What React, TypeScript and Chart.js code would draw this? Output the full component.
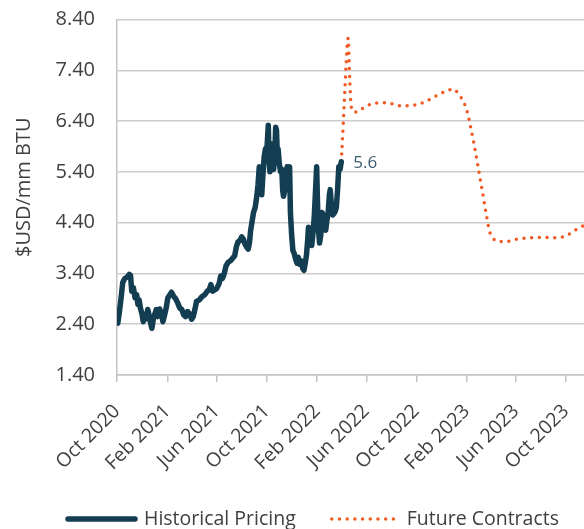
import React, { useEffect, useRef } from 'react';
import { Chart, registerables } from 'chart.js';

Chart.register(...registerables);

const histDates = [
  '2020-10-03','2020-10-07','2020-10-11','2020-10-15','2020-10-20','2020-10-26','2020-10-31',
  '2020-11-03','2020-11-06','2020-11-10','2020-11-14','2020-11-18','2020-11-21','2020-11-24','2020-11-27',
  '2020-12-01','2020-12-04','2020-12-07','2020-12-10','2020-12-15','2020-12-19','2020-12-22','2020-12-25','2020-12-29',
  '2021-01-02','2021-01-05','2021-01-08','2021-01-13','2021-01-17','2021-01-21','2021-01-25','2021-01-29',
  '2021-02-02','2021-02-07','2021-02-11','2021-02-16','2021-02-21','2021-02-26',
  '2021-03-03','2021-03-08','2021-03-13','2021-03-17','2021-03-22','2021-03-27',
  '2021-04-01','2021-04-05','2021-04-09','2021-04-13','2021-04-20','2021-04-26',
  '2021-05-03','2021-05-09','2021-05-14','2021-05-18','2021-05-22','2021-05-27',
  '2021-06-01','2021-06-07','2021-06-11','2021-06-15','2021-06-19','2021-06-24','2021-06-29',
  '2021-07-05','2021-07-10','2021-07-15','2021-07-19','2021-07-23','2021-07-28',
  '2021-08-01','2021-08-05','2021-08-09','2021-08-13','2021-08-17','2021-08-20','2021-08-23','2021-08-26','2021-08-30',
  '2021-09-03','2021-09-07','2021-09-10','2021-09-13','2021-09-16','2021-09-19','2021-09-22','2021-09-25','2021-09-28',
  '2021-10-02','2021-10-05','2021-10-07','2021-10-09','2021-10-12','2021-10-14','2021-10-16','2021-10-18','2021-10-21','2021-10-23','2021-10-25','2021-10-27','2021-10-29',
  '2021-11-01','2021-11-04','2021-11-07','2021-11-09','2021-11-11','2021-11-14','2021-11-17','2021-11-20','2021-11-23','2021-11-26','2021-11-28',
  '2021-12-01','2021-12-04','2021-12-07','2021-12-10','2021-12-14','2021-12-17','2021-12-21','2021-12-24','2021-12-28','2021-12-31',
  '2022-01-03','2022-01-06','2022-01-09','2022-01-11','2022-01-13','2022-01-16','2022-01-19','2022-01-22','2022-01-25','2022-01-28','2022-01-31',
  '2022-02-02','2022-02-04','2022-02-07','2022-02-10','2022-02-13','2022-02-16','2022-02-19','2022-02-22','2022-02-25','2022-02-28',
  '2022-03-03','2022-03-05','2022-03-08','2022-03-11','2022-03-14','2022-03-17','2022-03-20','2022-03-23','2022-03-26','2022-03-29',
  '2022-04-01'
];
const histValues = [
  2.42, 2.65, 2.92, 3.22, 3.30, 3.33, 3.38,
  3.36, 3.05, 3.12, 2.92, 2.98, 2.79, 2.88, 2.72,
  2.60, 2.45, 2.55, 2.50, 2.69, 2.55, 2.42, 2.32, 2.52,
  2.62, 2.69, 2.55, 2.70, 2.62, 2.45, 2.58, 2.72,
  2.92, 2.98, 3.03, 2.95, 2.90, 2.82,
  2.72, 2.69, 2.58, 2.55, 2.65, 2.60,
  2.50, 2.55, 2.69, 2.85, 2.88, 2.94,
  2.98, 3.05, 3.08, 3.18, 3.05, 3.08,
  3.10, 3.20, 3.35, 3.30, 3.38, 3.55, 3.62,
  3.65, 3.70, 3.75, 3.92, 4.02, 4.05,
  4.12, 4.08, 3.98, 3.92, 3.88, 4.00, 4.25, 4.40, 4.60,
  4.70, 4.92, 5.15, 5.50, 5.05, 4.95, 5.35, 5.70, 5.85,
  5.90, 6.32, 5.60, 5.40, 5.75, 5.95, 5.50, 5.45, 5.80, 6.28, 6.22, 5.75, 5.85,
  5.55, 5.40, 5.45, 5.05, 4.92, 5.02, 5.30, 5.50, 5.42, 5.50, 4.60,
  4.15, 3.85, 3.80, 3.70, 3.60, 3.72, 3.58, 3.65, 3.50, 3.46,
  3.60, 3.75, 4.05, 4.31, 4.25, 4.05, 3.95, 4.20, 4.50, 5.00, 5.50,
  4.80, 4.30, 4.00, 4.15, 4.60, 4.55, 4.40, 4.25, 4.45, 4.60,
  4.95, 5.05, 4.75, 4.55, 4.58, 4.62, 4.70, 5.05, 5.50, 5.45,
  5.60
];

const futureDates = [
  '2022-04-01','2022-04-04','2022-04-07','2022-04-10','2022-04-13','2022-04-16','2022-04-18',
  '2022-04-20','2022-04-22','2022-04-24','2022-04-28','2022-05-09','2022-05-25','2022-06-12',
  '2022-07-01','2022-07-21','2022-08-08','2022-08-25','2022-09-13','2022-10-05','2022-10-23',
  '2022-11-10','2022-11-26','2022-12-12','2022-12-30','2023-01-13','2023-01-24','2023-02-01',
  '2023-02-10','2023-02-18','2023-02-26','2023-03-06','2023-03-14','2023-03-22','2023-03-29',
  '2023-04-06','2023-04-20','2023-05-10','2023-06-01','2023-07-01','2023-08-01','2023-09-01',
  '2023-09-24','2023-10-10','2023-10-25','2023-11-08','2023-11-20'
];
const futureValues = [
  5.60, 6.05, 6.55, 7.05, 7.55, 7.95, 8.03,
  7.60, 7.15, 6.80, 6.60, 6.58, 6.66, 6.73,
  6.76, 6.76, 6.73, 6.70, 6.70, 6.73, 6.78,
  6.86, 6.93, 6.99, 7.03, 6.92, 6.78, 6.62,
  6.30, 5.98, 5.62, 5.25, 4.88, 4.50, 4.22,
  4.09, 4.03, 4.03, 4.07, 4.10, 4.11, 4.10,
  4.12, 4.18, 4.26, 4.32, 4.37
];

const xTickDates = [
  '2020-10-01','2021-02-01','2021-06-01','2021-10-01','2022-02-01',
  '2022-06-01','2022-10-01','2023-02-01','2023-06-01','2023-10-01'
];
const xTickLabels = [
  'Oct 2020','Feb 2021','Jun 2021','Oct 2021','Feb 2022',
  'Jun 2022','Oct 2022','Feb 2023','Jun 2023','Oct 2023'
];
const xMinDate = '2020-10-01';
const xMaxDate = '2023-11-14';
const yMin = 1.4;
const yMax = 8.4;
const yStep = 1;

const seriesNames = ['Historical Pricing', 'Future Contracts'];
const yTitle = '$USD/mm BTU';
const histColor = '#133d51';
const futureColor = '#f15a24';
const FONT = '"Open Sans", "Noto Sans", sans-serif';
const TEXT_COLOR = '#404040';

const ts = (d: string) => Date.parse(d + 'T00:00:00Z');
const xTickValues = xTickDates.map(ts);

const lastLabelPlugin = {
  id: 'lastLabel',
  afterDatasetsDraw(chart: any) {
    const meta = chart.getDatasetMeta(0);
    const pt = meta.data[meta.data.length - 1];
    if (!pt) return;
    const ctx = chart.ctx;
    ctx.save();
    ctx.font = '17px ' + FONT;
    ctx.fillStyle = '#3b5b6e';
    ctx.textAlign = 'left';
    ctx.textBaseline = 'middle';
    ctx.fillText(histValues[histValues.length - 1].toFixed(1), pt.x + 12, pt.y + 1);
    ctx.restore();
  },
};

// y-axis title drawn slightly above the plot's vertical centre, as in the source
const yTitlePlugin = {
  id: 'yTitle',
  afterDraw(chart: any) {
    const ctx = chart.ctx;
    const area = chart.chartArea;
    ctx.save();
    ctx.font = '20px ' + FONT;
    ctx.fillStyle = TEXT_COLOR;
    ctx.textAlign = 'center';
    ctx.textBaseline = 'middle';
    ctx.translate(24, (area.top + area.bottom) / 2 - 10);
    ctx.rotate(-Math.PI / 2);
    ctx.fillText(yTitle, 0, 0);
    ctx.restore();
  },
};

const legendPlugin = {
  id: 'customLegend',
  afterDraw(chart: any) {
    const ctx = chart.ctx;
    const y = 519;
    let x = 68;
    const sampleLen = [67, 62];
    const textGap = [9, 13];
    ctx.save();
    ctx.font = '19.5px ' + FONT;
    chart.data.datasets.forEach((ds: any, i: number) => {
      ctx.beginPath();
      ctx.strokeStyle = ds.borderColor;
      ctx.lineWidth = ds.borderWidth;
      ctx.lineCap = 'round';
      ctx.setLineDash(ds.borderDash || []);
      ctx.moveTo(x, y);
      ctx.lineTo(x + sampleLen[i], y);
      ctx.stroke();
      ctx.setLineDash([]);
      const tx = x + sampleLen[i] + textGap[i];
      ctx.fillStyle = TEXT_COLOR;
      ctx.textAlign = 'left';
      ctx.textBaseline = 'middle';
      ctx.fillText(ds.label, tx, y);
      x = tx + ctx.measureText(ds.label).width + 36;
    });
    ctx.restore();
  },
};

export default function App() {
  const ref = useRef<HTMLCanvasElement | null>(null);

  useEffect(() => {
    document.body.style.margin = '0';
    const canvas = ref.current;
    if (!canvas) return;
    const chart = new Chart(canvas, {
      type: 'line',
      data: {
        datasets: [
          {
            label: seriesNames[0],
            data: histDates.map((d, i) => ({ x: ts(d), y: histValues[i] })),
            borderColor: histColor,
            backgroundColor: histColor,
            borderWidth: 5.5,
            borderJoinStyle: 'round',
            borderCapStyle: 'round',
            pointRadius: 0,
            tension: 0,
            fill: false,
          },
          {
            label: seriesNames[1],
            data: futureDates.map((d, i) => ({ x: ts(d), y: futureValues[i] })),
            borderColor: futureColor,
            backgroundColor: futureColor,
            borderWidth: 3.5,
            borderDash: [0, 7.7],
            borderCapStyle: 'round',
            pointRadius: 0,
            cubicInterpolationMode: 'monotone',
            fill: false,
          },
        ],
      } as any,
      options: {
        animation: false,
        responsive: false,
        layout: { padding: { top: 19.5, left: 0, right: 0, bottom: 0 } },
        plugins: {
          legend: { display: false },
          tooltip: { enabled: false },
        },
        scales: {
          x: {
            type: 'linear',
            min: ts(xMinDate),
            max: ts(xMaxDate),
            afterBuildTicks: (scale: any) => {
              scale.ticks = xTickValues.map((v) => ({ value: v }));
            },
            afterFit: (scale: any) => {
              scale.paddingLeft = 0;
              scale.paddingRight = 0;
              scale.height = 154;
            },
            ticks: {
              autoSkip: false,
              maxRotation: 45,
              minRotation: 45,
              padding: 18,
              color: TEXT_COLOR,
              font: { family: FONT, size: 19.5 },
              callback: (value: any) => {
                const i = xTickValues.indexOf(Number(value));
                return i >= 0 ? xTickLabels[i] : '';
              },
            },
            grid: {
              display: true,
              drawOnChartArea: false,
              drawTicks: true,
              tickLength: 7,
              color: '#c3c3c3',
              lineWidth: 1.5,
            },
            border: { display: true, color: '#c3c3c3', width: 1.5 },
          },
          y: {
            type: 'linear',
            min: yMin,
            max: yMax,
            afterFit: (scale: any) => {
              scale.width = 117;
              scale.paddingTop = 0;
              scale.paddingBottom = 0;
            },
            ticks: {
              stepSize: yStep,
              padding: 22,
              color: TEXT_COLOR,
              font: { family: FONT, size: 20 },
              callback: (value: any) => Number(value).toFixed(2),
            },
            grid: {
              color: '#cccccc',
              lineWidth: 1.5,
              drawTicks: false,
            },
            border: { display: true, color: '#c3c3c3', width: 1.5 },
            title: { display: false },
          },
        },
      } as any,
      plugins: [lastLabelPlugin, yTitlePlugin, legendPlugin],
    });
    return () => chart.destroy();
  }, []);

  return (
    <div style={{ position: 'absolute', left: 0, top: 0, width: 584, height: 529, overflow: 'hidden' }}>
      <canvas ref={ref} width={584} height={529} style={{ display: 'block' }} />
    </div>
  );
}
